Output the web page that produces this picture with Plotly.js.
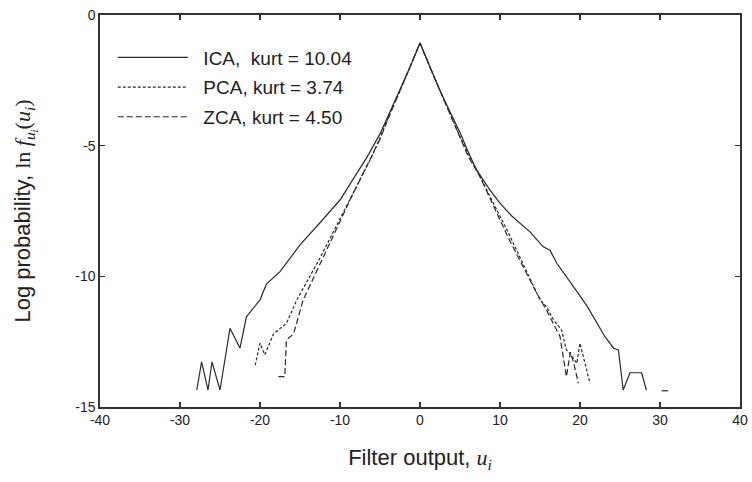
<!DOCTYPE html>
<html>
<head>
<meta charset="utf-8">
<script src="https://cdn.plot.ly/plotly-3.0.1.min.js"></script>
<style>html,body{margin:0;padding:0;background:#fff;}#chart{width:752px;height:482px;}</style>
</head>
<body>
<div id="chart"></div>
<script>
// Series names (legend labels)
const seriesNames = ["ICA,  kurt = 10.04", "PCA, kurt = 3.74", "ZCA, kurt = 4.50"];

// ICA filter output (u) and log probability
const icaU = [-27.9,-27.3,-26.5,-26.0,-25,-23.75,-22.5,-21.7,-20,-19.2,-17.5,-15,-12.5,-10,-8.4,-6.6,-5,-3.75,-2.5,-1.25,0,1.25,2.5,3.75,5,5.83,7,8.75,10,11.5,13.75,15.4,16.25,17.1,18.3,20,21,22.1,23.1,24.2,24.8,25.4,26.25,27.7,28.3,null,30.2,31.0];
const icaV = [-14.35,-13.27,-14.35,-13.27,-14.35,-11.99,-12.75,-11.55,-10.9,-10.3,-9.82,-8.8,-7.95,-7.08,-6.3,-5.43,-4.55,-3.7,-2.9,-2.0,-1.07,-2.0,-2.9,-3.7,-4.5,-5.1,-5.9,-6.7,-7.2,-7.7,-8.3,-8.87,-9.0,-9.5,-10.0,-10.75,-11.2,-11.8,-12.3,-12.75,-12.82,-14.35,-13.69,-13.69,-14.35,null,-14.38,-14.38];

// PCA
const pcaU = [-20.6,-20,-19.4,-18.3,-16.7,-15.4,-12.5,-10,-8,-6,-5,-3.75,-2.5,-1.25,0,1.25,2.5,3.75,5,6,7.1,9,11,13,15,15.8,16.7,17.7,18.3,18.75,19.6,20,20.6,21.25];
const pcaV = [-13.4,-12.56,-13.0,-12.2,-11.8,-10.9,-9.3,-7.8,-6.6,-5.4,-4.7,-3.75,-2.9,-2.0,-1.07,-2.0,-2.9,-3.75,-4.65,-5.3,-5.93,-7.1,-8.3,-9.6,-10.9,-11.16,-11.67,-12.06,-12.82,-12.95,-13.33,-12.56,-13.3,-14.1];

// ZCA
const zcaU = [-17.7,-16.9,-16.7,-15.8,-14.6,-12.5,-10,-8.75,-7,-5,-3.75,-2.5,-1.25,0,1.25,2.5,3.75,5,6,7.5,9,11,13,14.6,15.8,16.7,17.5,18.3,18.8,19.2,19.8];
const zcaV = [-13.84,-13.84,-12.44,-12.2,-10.9,-9.5,-7.9,-7.08,-6.0,-4.75,-3.8,-2.9,-2.0,-1.07,-2.0,-2.9,-3.8,-4.7,-5.4,-6.19,-7.2,-8.5,-9.7,-10.65,-11.29,-11.8,-12.3,-13.84,-12.9,-13.3,-14.1];

// Axis ticks
const xTicks = [-40,-30,-20,-10,0,10,20,30,40];
const yTicks = [0,-5,-10,-15];

const lineColor = "#2a2a2a";
const pad = "\u00A0\u00A0";
const traces = [
  {x: icaU, y: icaV, name: pad + seriesNames[0], legendgroup: "a", mode: "lines", connectgaps: false,
   line: {color: lineColor, width: 1.2, dash: "solid"}},
  {x: pcaU, y: pcaV, name: pad + seriesNames[1], legendgroup: "b", mode: "lines",
   line: {color: lineColor, width: 1.2, dash: "3px,2px"}},
  {x: zcaU, y: zcaV, name: pad + seriesNames[2], legendgroup: "c", mode: "lines",
   line: {color: lineColor, width: 1.2, dash: "6px,3px"}}
];

const axisCommon = {
  showline: true, mirror: "ticks", linecolor: "#333", linewidth: 1.6,
  ticks: "inside", ticklen: 5, tickwidth: 1.4, tickcolor: "#333",
  showgrid: false, zeroline: false,
  tickfont: {family: "Liberation Sans, Arial, sans-serif", size: 14, color: "#222"}
};

const layout = {
  width: 752, height: 482,
  margin: {l: 100, r: 12, t: 15, b: 75},
  paper_bgcolor: "#fff", plot_bgcolor: "#fff",
  showlegend: true,
  legend: {x: 0.02, y: 0.94, xanchor: "left", yanchor: "top",
    bgcolor: "rgba(0,0,0,0)", borderwidth: 0, itemwidth: 70, tracegroupgap: 2,
    font: {family: "Liberation Sans, Arial, sans-serif", size: 19, color: "#222"}},
  xaxis: Object.assign({}, axisCommon, {
    range: [-40, 40], tickvals: xTicks, ticktext: xTicks.map(String),
    title: {text: "Filter output, <i style='font-family:Liberation Serif'>u<sub>i</sub></i>",
      font: {family: "Liberation Sans, Arial, sans-serif", size: 22, color: "#222"}, standoff: 22}
  }),
  yaxis: Object.assign({}, axisCommon, {
    range: [-15, 0], tickvals: yTicks, ticktext: yTicks.map(String),
    title: {text: "Log probability, <span style='font-family:Liberation Serif'>ln <i>f</i><sub><i>u<sub>i</sub></i></sub>(<i>u<sub>i</sub></i>)</span>",
      font: {family: "Liberation Sans, Arial, sans-serif", size: 22, color: "#222"}, standoff: 38}
  })
};

Plotly.newPlot("chart", traces, layout, {staticPlot: true, displayModeBar: false});
</script>
</body>
</html>
